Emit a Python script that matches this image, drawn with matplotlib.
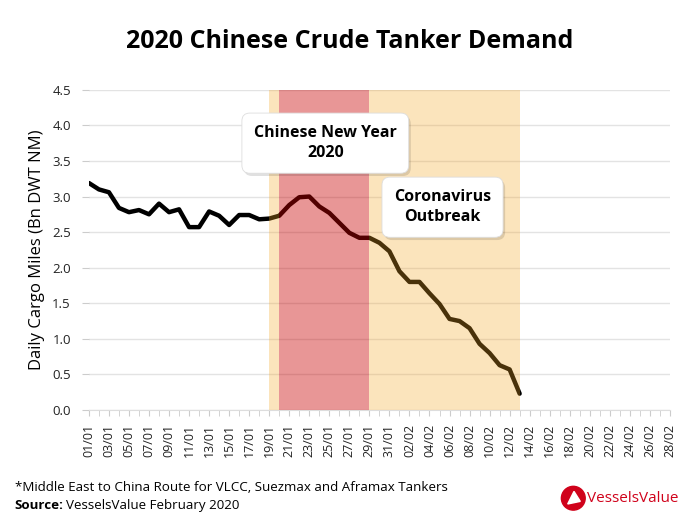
import pandas as pd
import matplotlib.pyplot as plt
import matplotlib.patches as mpatches
import matplotlib.patheffects as pe
import numpy as np

plt.rcParams['font.family'] = ['Open Sans', 'DejaVu Sans']

# daily values, 01/01 .. 13/02
DEMAND = [3.19, 3.10, 3.06, 2.84, 2.78, 2.81, 2.75, 2.90, 2.78, 2.82,
          2.57, 2.57, 2.79, 2.73, 2.60, 2.74, 2.74, 2.68, 2.69, 2.73,
          2.88, 2.99, 3.00, 2.86, 2.77, 2.63, 2.49, 2.42, 2.42, 2.35,
          2.23, 1.95, 1.80, 1.80, 1.64, 1.49, 1.28, 1.25, 1.15, 0.93,
          0.80, 0.63, 0.57, 0.23]
DATES = pd.date_range("2020-01-01", "2020-02-28")
TICK_LABELS = [d.strftime("%d/%m") for d in DATES[::2]]
CNY = ("2020-01-20", "2020-01-29")
OUTBREAK = ("2020-01-19", "2020-02-13")


def day(s):
    return (pd.Timestamp(s) - DATES[0]).days


fig = plt.figure(figsize=(7, 5.25), dpi=100)
ax = fig.add_axes([0.127, 0.219, 0.83, 0.61])

ax.plot(np.arange(len(DEMAND)), DEMAND, color="black", linewidth=3.2,
        solid_joinstyle="round", solid_capstyle="round", zorder=2)

# bands drawn over the line so it takes their tint
yellow = "#F5A623"
ax.axvspan(day(OUTBREAK[0]), day(CNY[0]), color=yellow, alpha=0.3, lw=0, zorder=3)
ax.axvspan(day(CNY[1]), day(OUTBREAK[1]), color=yellow, alpha=0.3, lw=0, zorder=3)
ax.axvspan(day(CNY[0]), day(CNY[1]), color="#C80000", alpha=0.41, lw=0, zorder=3)

ax.set_xlim(0, len(DATES) - 1)
ax.set_ylim(0, 4.5)
ax.set_yticks(np.arange(0, 4.51, 0.5))
ax.set_yticklabels([f"{v:.1f}" for v in np.arange(0, 4.51, 0.5)], fontsize=9.5, color="#222222")
ax.set_xticks(np.arange(0, len(DATES), 2))
ax.set_xticks(np.arange(0, len(DATES)), minor=True)
ax.set_xticklabels(TICK_LABELS, rotation=90, fontsize=9, color="#222222")
ax.tick_params(axis="x", which="both", length=4, color="#cccccc", pad=6)
ax.tick_params(axis="y", length=5, color="#cccccc", pad=8)
ax.grid(axis="y", color="#e3e3e3", linewidth=1, zorder=1)
ax.set_axisbelow(True)
for side in ["top", "right", "left"]:
    ax.spines[side].set_visible(False)
ax.spines["bottom"].set_color("#dddddd")
ax.set_ylabel("Daily Cargo Miles (Bn DWT NM)", fontsize=12, labelpad=5)


def label_box(x, y, text):
    t = ax.text(x, y, text, ha="center", va="center", fontsize=11.5, fontweight="bold",
                zorder=5, linespacing=1.35,
                bbox=dict(boxstyle="round,pad=0.75,rounding_size=0.5", fc="white",
                          ec="#dddddd", lw=0.6))
    t.get_bbox_patch().set_path_effects(
        [pe.SimplePatchShadow(offset=(1.5, -2), shadow_rgbFace="black", alpha=0.12), pe.Normal()])


label_box(23.6, 3.75, "Chinese New Year\n2020")
label_box(35.3, 2.85, "Coronavirus\nOutbreak")

fig.text(0.5, 0.92, "2020 Chinese Crude Tanker Demand", ha="center", va="center",
         fontsize=18, fontweight="bold")
fig.text(0.021, 0.072, "*Middle East to China Route for VLCC, Suezmax and Aframax Tankers",
         fontsize=9.6, va="center")
src = fig.text(0.021, 0.038, "Source:", fontsize=9.6, fontweight="bold", va="center")
fig.canvas.draw()
bb = src.get_window_extent().transformed(fig.transFigure.inverted())
fig.text(bb.x1 + 0.004, 0.038, "VesselsValue February 2020", fontsize=9.6, va="center")

# logo
red = "#D0021B"
circ = mpatches.Ellipse((0.819, 0.051), 0.034, 0.0453, color=red, transform=fig.transFigure)
fig.patches.append(circ)
tri = mpatches.Polygon([[0.811, 0.040], [0.820, 0.064], [0.829, 0.045]], closed=True,
                       color="white", transform=fig.transFigure)
fig.patches.append(tri)
fig.text(0.838, 0.051, "VesselsValue", fontsize=11, color=red, va="center")

plt.savefig("out.png", dpi=100)
